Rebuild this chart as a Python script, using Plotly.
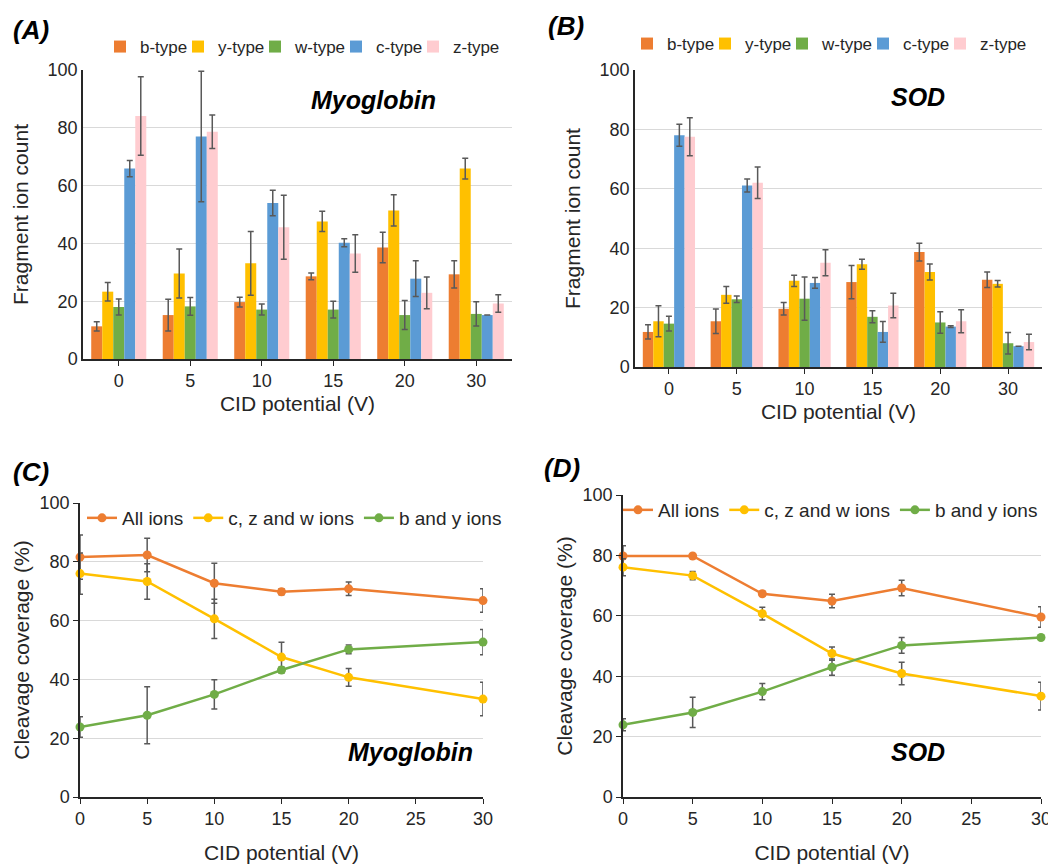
import plotly.graph_objects as go

# ---------------- data ----------------
cid_cats = ["0", "5", "10", "15", "20", "30"]
cid_vals = [0, 5, 10, 15, 20, 30]
ion_types = ["b-type", "y-type", "w-type", "c-type", "z-type"]

# Panel A: Myoglobin fragment ion counts
myo_b = [11.3, 15.2, 19.7, 28.6, 38.6, 29.3]
myo_b_err = [1.6, 5.5, 1.7, 1.2, 5.3, 4.7]
myo_y = [23.3, 29.6, 33.1, 47.6, 51.4, 65.9]
myo_y_err = [3.2, 8.5, 11.0, 3.5, 5.4, 3.6]
myo_w = [18.0, 18.2, 17.1, 17.1, 15.2, 15.6]
myo_w_err = [2.8, 3.1, 1.9, 2.9, 5.0, 4.2]
myo_c = [65.9, 77.0, 54.0, 40.2, 27.8, 15.2]
myo_c_err = [2.8, 22.6, 4.4, 1.4, 6.2, 0.0]
myo_z = [84.1, 78.6, 45.6, 36.5, 22.9, 19.2]
myo_z_err = [13.6, 5.8, 11.1, 6.5, 5.5, 3.0]

# Panel B: SOD fragment ion counts
sod_b = [11.8, 15.4, 19.6, 28.6, 38.7, 29.4]
sod_b_err = [2.4, 4.1, 2.1, 5.6, 3.0, 2.6]
sod_y = [15.4, 24.3, 29.0, 34.6, 32.0, 28.0]
sod_y_err = [5.2, 2.8, 1.9, 1.7, 2.7, 1.1]
sod_w = [14.6, 22.8, 23.0, 16.9, 15.0, 8.0]
sod_w_err = [2.5, 1.1, 7.3, 2.0, 3.6, 3.6]
sod_c = [78.0, 61.1, 28.3, 11.8, 13.6, 7.0]
sod_c_err = [3.7, 2.2, 1.8, 3.5, 0.3, 0.0]
sod_z = [77.5, 62.0, 35.1, 20.7, 15.4, 8.4]
sod_z_err = [6.4, 5.3, 4.4, 4.1, 3.9, 2.6]

# Panel C: Myoglobin cleavage coverage (%)
line_names = ["All ions", "c, z and w ions", "b and y ions"]
myo_all = [81.6, 82.3, 72.7, 69.8, 70.8, 66.8]
myo_all_err = [7.5, 5.7, 6.8, 1.0, 2.3, 4.0]
myo_czw = [76.0, 73.3, 60.6, 47.6, 40.7, 33.3]
myo_czw_err = [7.0, 6.0, 6.7, 5.0, 3.0, 5.7]
myo_by = [23.8, 27.8, 34.9, 43.2, 50.2, 52.7]
myo_by_err = [3.5, 9.7, 5.0, 1.0, 1.5, 4.3]

# Panel D: SOD cleavage coverage (%)
sod_all = [79.8, 79.8, 67.3, 64.9, 69.2, 59.6]
sod_all_err = [3.4, 0.5, 0.8, 2.2, 2.6, 3.4]
sod_czw = [76.1, 73.3, 60.7, 47.5, 40.9, 33.4]
sod_czw_err = [2.8, 1.4, 2.1, 2.2, 3.7, 4.6]
sod_by = [23.9, 28.0, 34.9, 43.0, 50.2, 52.8]
sod_by_err = [2.0, 5.0, 2.7, 2.7, 2.6, 0.3]

bar_colors = ["#ED7D31", "#FFC000", "#70AD47", "#5B9BD5", "#FFCCD0"]
line_colors = ["#ED7D31", "#FFC000", "#70AD47"]
ERR_COLOR = "#595959"
FONT = "Liberation Sans, Arial, sans-serif"
TXT = "#262626"

# page body has an 8px margin: figure is drawn 8px in from the window corner
OFF = 8
W, H = 1048, 856


def px_x(p):
    return (p - OFF) / W


def px_y(p):
    return 1 - (p - OFF) / H


# legend entry positions (left edge of the swatch, window px)
legA_sym = [115, 193, 270, 351, 428]
legB_sym = [642, 720, 797, 878, 955]

fig = go.Figure()

myo_bars = [(myo_b, myo_b_err), (myo_y, myo_y_err), (myo_w, myo_w_err),
            (myo_c, myo_c_err), (myo_z, myo_z_err)]
sod_bars = [(sod_b, sod_b_err), (sod_y, sod_y_err), (sod_w, sod_w_err),
            (sod_c, sod_c_err), (sod_z, sod_z_err)]


def lg_name(n):
    return "legend" if n == 1 else f"legend{n}"


for p, (bars, xa, ya) in enumerate([(myo_bars, "x", "y"), (sod_bars, "x2", "y2")]):
    for i, (vals, errs) in enumerate(bars):
        fig.add_trace(go.Bar(
            x=cid_cats, y=vals, name=ion_types[i],
            marker=dict(color=bar_colors[i], line=dict(width=0)),
            error_y=dict(type="data", array=errs, color=ERR_COLOR,
                         thickness=1.5, width=3),
            xaxis=xa, yaxis=ya, legend=lg_name(1 + p * 5 + i), offsetgroup=str(i),
            showlegend=True,
        ))

myo_lines = [(myo_all, myo_all_err), (myo_czw, myo_czw_err), (myo_by, myo_by_err)]
sod_lines = [(sod_all, sod_all_err), (sod_czw, sod_czw_err), (sod_by, sod_by_err)]

for lines, xa, ya, lg in [(myo_lines, "x3", "y3", lg_name(11)),
                          (sod_lines, "x4", "y4", lg_name(12))]:
    for i, (vals, errs) in enumerate(lines):
        fig.add_trace(go.Scatter(
            x=cid_vals, y=vals, name=line_names[i], mode="lines+markers",
            line=dict(color=line_colors[i], width=2.5),
            marker=dict(color=line_colors[i], size=9),
            error_y=dict(type="data", array=errs, color=ERR_COLOR,
                         thickness=1.5, width=3),
            xaxis=xa, yaxis=ya, legend=lg, cliponaxis=False, showlegend=True,
        ))

tickfont = dict(family=FONT, size=18, color=TXT)
titlefont = dict(family=FONT, size=21, color=TXT)

bar_x_common = dict(type="category", showline=True, linecolor="#262626", linewidth=1.5,
                    ticks="outside", ticklen=5, tickcolor="#262626", automargin=False,
                    tickfont=tickfont, showgrid=False,
                    title=dict(text="CID potential (V)", font=titlefont, standoff=6))
bar_y_common = dict(range=[0, 100], dtick=20, showline=True, linecolor="#262626",
                    linewidth=1.5, showgrid=True, gridcolor="#D9D9D9", gridwidth=1,
                    ticks="", tickfont=tickfont, zeroline=False, automargin=False,
                    title=dict(text="Fragment ion count", font=titlefont, standoff=13))
line_x_common = dict(range=[0, 30], dtick=5, tick0=0, showline=True, linecolor="#262626",
                     linewidth=1.5, ticks="outside", ticklen=5, tickcolor="#262626",
                     tickfont=tickfont, showgrid=False, zeroline=False, automargin=False,
                     title=dict(text="CID potential (V)", font=titlefont, standoff=20))
line_y_common = dict(range=[0, 100], dtick=20, showline=True, linecolor="#262626",
                     linewidth=1.5, showgrid=True, gridcolor="#D9D9D9", gridwidth=1,
                     ticks="outside", ticklen=5, tickcolor="#262626", automargin=False,
                     tickfont=tickfont, zeroline=False,
                     title=dict(text="Cleavage coverage (%)", font=titlefont, standoff=4))

bar_legend = dict(orientation="h", xanchor="left", yanchor="middle",
                  font=dict(family=FONT, size=17, color=TXT), itemwidth=30,
                  bgcolor="rgba(0,0,0,0)")
line_legend = dict(orientation="h", xanchor="left", yanchor="middle",
                   font=dict(family=FONT, size=19, color=TXT), itemwidth=30,
                   bgcolor="rgba(0,0,0,0)", traceorder="normal")

legends = {}
for i, s in enumerate(legA_sym):
    legends[lg_name(1 + i)] = dict(x=px_x(s - 15), y=px_y(47), **bar_legend)
for i, s in enumerate(legB_sym):
    legends[lg_name(6 + i)] = dict(x=px_x(s - 15), y=px_y(44), **bar_legend)
legends[lg_name(11)] = dict(x=px_x(82), y=px_y(518), **line_legend)
legends[lg_name(12)] = dict(x=px_x(618), y=px_y(510), **line_legend)

fig.update_layout(
    width=W, height=H,
    margin=dict(l=0, r=0, t=0, b=0, autoexpand=False),
    paper_bgcolor="white", plot_bgcolor="white",
    font=dict(family=FONT, color=TXT),
    showlegend=True,
    barmode="group", bargap=0.23, bargroupgap=0,
    xaxis=dict(domain=[px_x(83), px_x(512)], anchor="y", **bar_x_common),
    yaxis=dict(domain=[px_y(359), px_y(70)], anchor="x", **bar_y_common),
    xaxis2=dict(domain=[px_x(635), px_x(1042)], anchor="y2", **bar_x_common),
    yaxis2=dict(domain=[px_y(367), px_y(70)], anchor="x2", **bar_y_common),
    xaxis3=dict(domain=[px_x(80), px_x(483)], anchor="y3", **line_x_common),
    yaxis3=dict(domain=[px_y(797), px_y(503)], anchor="x3", **line_y_common),
    xaxis4=dict(domain=[px_x(623), px_x(1041)], anchor="y4", **line_x_common),
    yaxis4=dict(domain=[px_y(797), px_y(495)], anchor="x4", **line_y_common),
    **legends,
)

label_font = dict(family=FONT, size=26, color="black")
name_font = dict(family=FONT, size=25, color="black")
annots = [
    ("<b><i>(A)</i></b>", 11, 30),
    ("<b><i>(B)</i></b>", 546, 26),
    ("<b><i>(C)</i></b>", 11, 472),
    ("<b><i>(D)</i></b>", 542, 468),
]
for text, x, y in annots:
    fig.add_annotation(text=text, x=px_x(x), y=px_y(y), xref="paper", yref="paper",
                       xanchor="left", yanchor="middle", showarrow=False, font=label_font)
for text, x, y in [("<b><i>Myoglobin</i></b>", 373, 100), ("<b><i>SOD</i></b>", 918, 97),
                   ("<b><i>Myoglobin</i></b>", 410, 752), ("<b><i>SOD</i></b>", 918, 752)]:
    fig.add_annotation(text=text, x=px_x(x), y=px_y(y), xref="paper", yref="paper",
                       xanchor="center", yanchor="middle", showarrow=False, font=name_font)

fig.write_html("out.html")
